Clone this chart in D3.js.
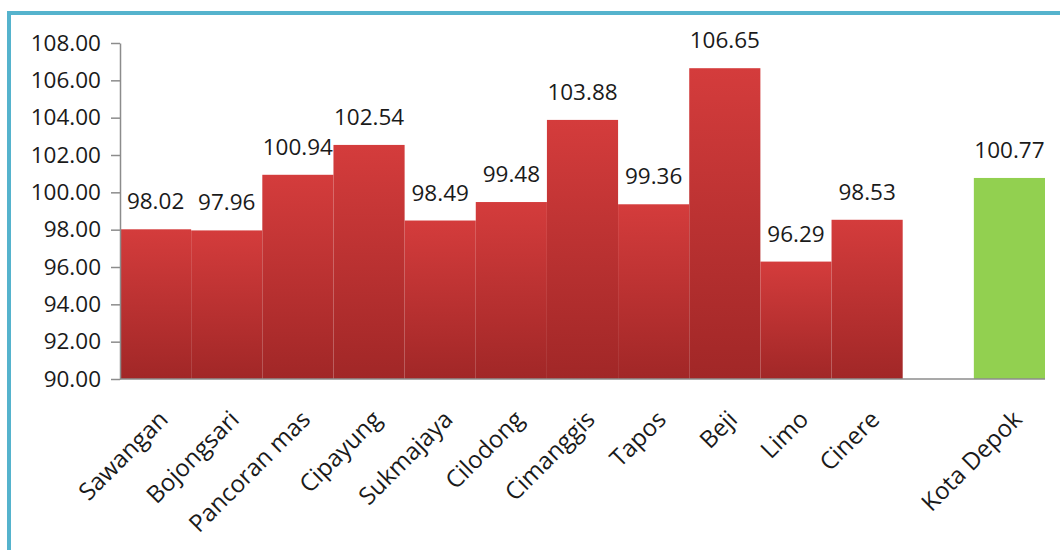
<!DOCTYPE html>
<html><head><meta charset="utf-8">
<script src="https://cdn.jsdelivr.net/npm/d3@7"></script>
<style>
html,body{margin:0;padding:0;background:#fff;}
svg{display:block;font-family:"Open Sans",sans-serif;}
</style></head>
<body>
<svg id="chart" width="1060" height="550"></svg>
<script>
const categories = ["Sawangan","Bojongsari","Pancoran mas","Cipayung","Sukmajaya","Cilodong","Cimanggis","Tapos","Beji","Limo","Cinere","Kota Depok"];
const values = [98.02, 97.96, 100.94, 102.54, 98.49, 99.48, 103.88, 99.36, 106.65, 96.29, 98.53, 100.77];
const yTicks = [90, 92, 94, 96, 98, 100, 102, 104, 106, 108];
const totalCategory = "Kota Depok";

const svg = d3.select("#chart");
const margin = {left:120, top:43, right:1045, bottom:379};

// frame
svg.append("rect").attr("x",9).attr("y",13).attr("width",1120).attr("height",620)
  .attr("fill","none").attr("stroke","#55b3cd").attr("stroke-width",4);

const defs = svg.append("defs");
const grad = defs.append("linearGradient").attr("id","redGrad").attr("x1",0).attr("y1",0).attr("x2",0).attr("y2",1);
grad.append("stop").attr("offset","0%").attr("stop-color","#d43c3c");
grad.append("stop").attr("offset","100%").attr("stop-color","#a12727");

const domain = categories.slice(0, categories.length-1).concat(["__gap__", totalCategory]);
const x = d3.scaleBand().domain(domain).range([margin.left, margin.right]).padding(0);
const y = d3.scaleLinear().domain([90,108]).range([margin.bottom, margin.top]);

const data = categories.map((c,i)=>({c, v:values[i]}));

svg.append("g").selectAll("rect").data(data).join("rect")
  .attr("x", d=>x(d.c)).attr("width", x.bandwidth())
  .attr("y", d=>y(d.v)).attr("height", d=>y(90)-y(d.v))
  .attr("fill", d=> d.c===totalCategory ? "#92d050" : "url(#redGrad)");

// y axis
const yAxis = svg.append("g").attr("transform",`translate(${margin.left},0)`)
  .call(d3.axisLeft(y).tickValues(yTicks).tickFormat(d3.format(".2f")).tickSize(9).tickSizeOuter(0));
yAxis.select(".domain").attr("stroke","#8c8c8c").attr("stroke-width",1.5);
yAxis.selectAll(".tick line").attr("stroke","#8c8c8c").attr("stroke-width",1.5);
yAxis.selectAll(".tick text").attr("font-size",22.5).attr("fill","#1a1a1a").attr("x",-19)
  .attr("font-family","Open Sans, sans-serif");

// x axis line
svg.append("line").attr("x1",margin.left).attr("x2",margin.right)
  .attr("y1",y(90)).attr("y2",y(90)).attr("stroke","#8c8c8c").attr("stroke-width",1.5);

// value labels
svg.append("g").selectAll("text").data(data).join("text")
  .attr("x", d=>x(d.c)+x.bandwidth()/2).attr("y", d=>y(d.v)-20)
  .attr("text-anchor","middle").attr("font-size",22.5).attr("fill","#1a1a1a")
  .text(d=>d.v.toFixed(2));

// category labels rotated
svg.append("g").selectAll("text").data(data).join("text")
  .attr("transform", d=>`translate(${x(d.c)+x.bandwidth()/2+2},${y(90)+30}) rotate(-45)`)
  .attr("text-anchor","end").attr("dy","0.7em").attr("font-size",24).attr("fill","#1a1a1a")
  .text(d=>d.c);
</script>
</body></html>
